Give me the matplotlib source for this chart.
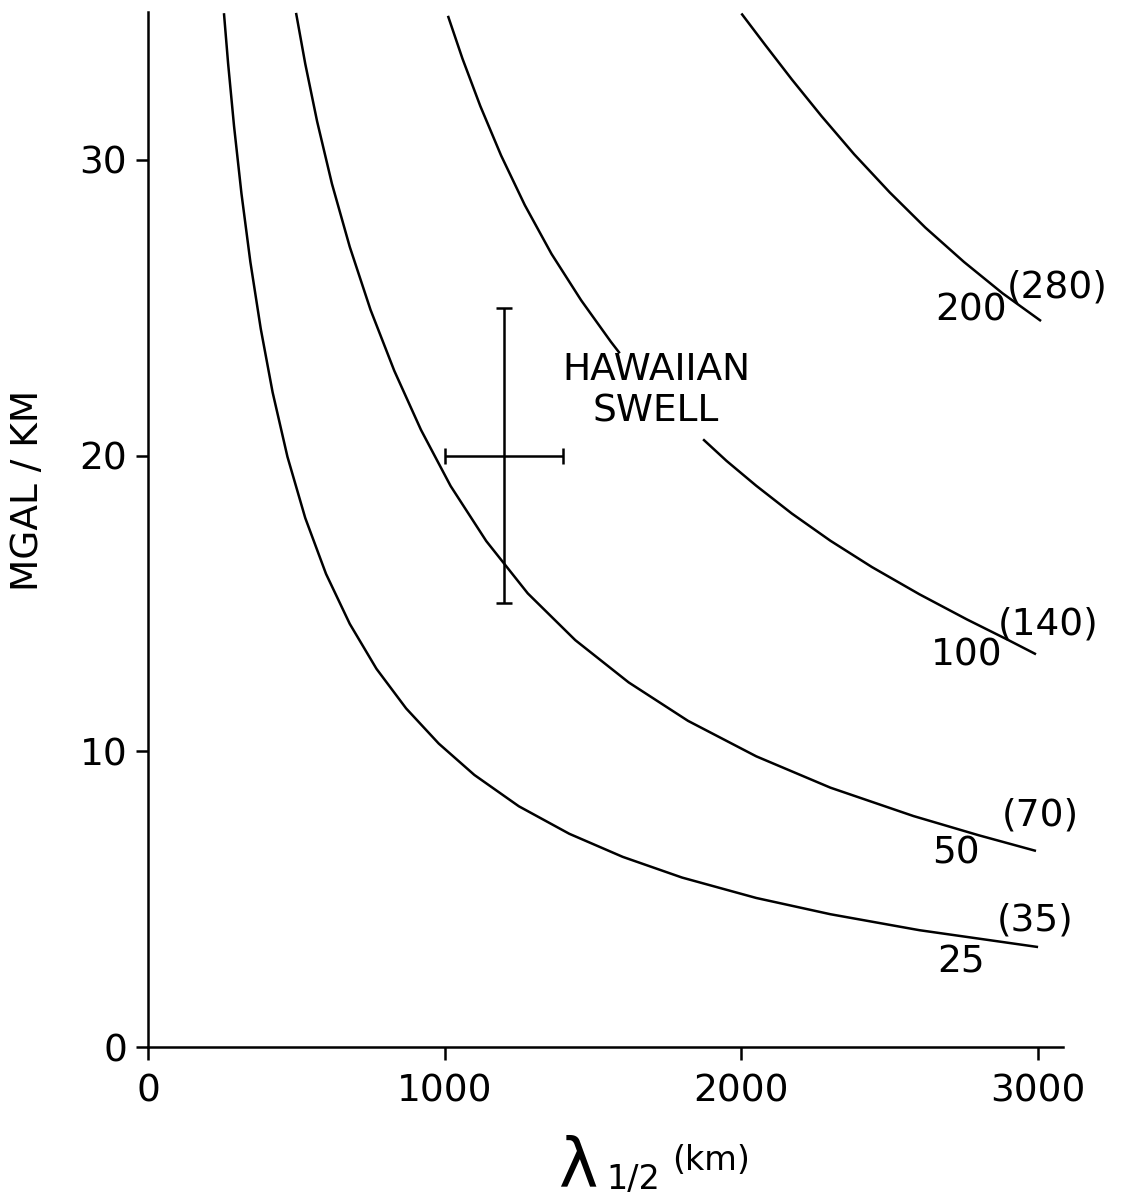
import numpy as np
import matplotlib
matplotlib.use("Agg")
import matplotlib.pyplot as plt

# ---- data ----
x_25 = [256, 270, 290, 315, 345, 380, 420, 470, 530, 600, 680, 770, 870, 980,
        1100, 1250, 1420, 1600, 1800, 2050, 2300, 2600, 3000]
y_25 = [34.96, 33.26, 31.14, 28.86, 26.55, 24.29, 22.14, 19.96, 17.89, 16.00, 14.31,
        12.79, 11.45, 10.26, 9.20, 8.14, 7.21, 6.43, 5.73, 5.04, 4.49, 3.95, 3.38]

x_50 = [499, 530, 570, 620, 680, 750, 830, 920, 1020, 1140, 1280, 1440, 1620, 1820,
        2050, 2300, 2580, 2800, 2993]
y_50 = [34.97, 33.25, 31.30, 29.19, 27.06, 24.93, 22.87, 20.87, 18.97, 17.11, 15.34,
        13.76, 12.33, 11.03, 9.83, 8.77, 7.81, 7.16, 6.63]

# curve 100 is interrupted where the "HAWAIIAN SWELL" label sits (NaN = gap)
x_100 = [1011, 1060, 1120, 1190, 1270, 1360, 1460, 1560, 1590, np.nan,
         1871, 1950, 2050, 2170, 2300, 2440, 2600, 2760, 2900, 2993]
y_100 = [34.87, 33.42, 31.82, 30.15, 28.47, 26.82, 25.25, 23.85, 23.46, np.nan,
         20.55, 19.82, 18.98, 18.04, 17.12, 16.23, 15.31, 14.46, 13.76, 13.28]

x_200 = [2000, 2080, 2170, 2270, 2380, 2500, 2620, 2750, 2880, 3010]
y_200 = [34.95, 33.89, 32.72, 31.48, 30.19, 28.90, 27.71, 26.55, 25.49, 24.55]

curve_labels = ["25", "50", "100", "200"]
curve_alt_labels = ["(35)", "(70)", "(140)", "(280)"]

swell_x, swell_y = 1200, 20
swell_xerr, swell_yerr = 200, 5

x_ticks = [0, 1000, 2000, 3000]
y_ticks = [0, 10, 20, 30]

# ---- figure ----
plt.rcParams['font.family'] = ['DejaVu Sans']
W, H = 1132, 1198
fig = plt.figure(figsize=(W / 100, H / 100), dpi=100)
ax = fig.add_axes([148 / W, 1 - 1047 / H, (1063 - 148) / W, (1047 - 12) / H])
ax.set_xlim(0, 3084)
ax.set_ylim(0, 35)

lw = 1.8
for xs, ys in [(x_25, y_25), (x_50, y_50), (x_100, y_100), (x_200, y_200)]:
    ax.plot(xs, ys, color='black', lw=lw, solid_capstyle='butt',
            solid_joinstyle='round', clip_on=False)

ax.errorbar([swell_x], [swell_y], xerr=[swell_xerr], yerr=[swell_yerr],
            fmt='none', ecolor='black', elinewidth=1.8, capsize=5.5, capthick=1.8)

fs = 27
ax.text(1712, 22.2, "HAWAIIAN\nSWELL", ha='center', va='center', fontsize=fs,
        linespacing=1.2)

# curve labels
lab_pos = [(2740, 2.87), (2723, 6.55), (2760, 13.24), (2774, 24.9)]
alt_pos = [(2990, 4.29), (3006, 7.84), (3033, 14.3), (3064, 25.7)]
for lab, (lx, ly) in zip(curve_labels, lab_pos):
    ax.text(lx, ly, lab, ha='center', va='center', fontsize=fs, clip_on=False)
for lab, (lx, ly) in zip(curve_alt_labels, alt_pos):
    ax.text(lx, ly, lab, ha='center', va='center', fontsize=fs, clip_on=False)

# axes styling
for s in ['top', 'right']:
    ax.spines[s].set_visible(False)
for s in ['left', 'bottom']:
    ax.spines[s].set_linewidth(1.8)
ax.set_xticks(x_ticks)
ax.set_yticks(y_ticks)
ax.set_xticklabels([str(v) for v in x_ticks])
ax.set_yticklabels([str(v) for v in y_ticks])
ax.tick_params(axis='both', direction='out', length=9, width=1.8, labelsize=fs)
ax.tick_params(axis='x', pad=10)
ax.tick_params(axis='y', pad=6)

fig.text(28 / W, 1 - 490 / H, "MGAL / KM", rotation=90, ha='center', va='center',
         fontsize=fs)
# x-axis label: lambda with subscript 1/2, then (km)
fig.text(558 / W, 1 - 1186 / H, "λ", ha='left', va='baseline', fontsize=48)
fig.text(606 / W, 1 - 1189 / H, "1/2", ha='left', va='baseline', fontsize=24)
fig.text(672 / W, 1 - 1170 / H, "(km)", ha='left', va='baseline', fontsize=24)

fig.savefig("out.png", dpi=100, facecolor='white')
